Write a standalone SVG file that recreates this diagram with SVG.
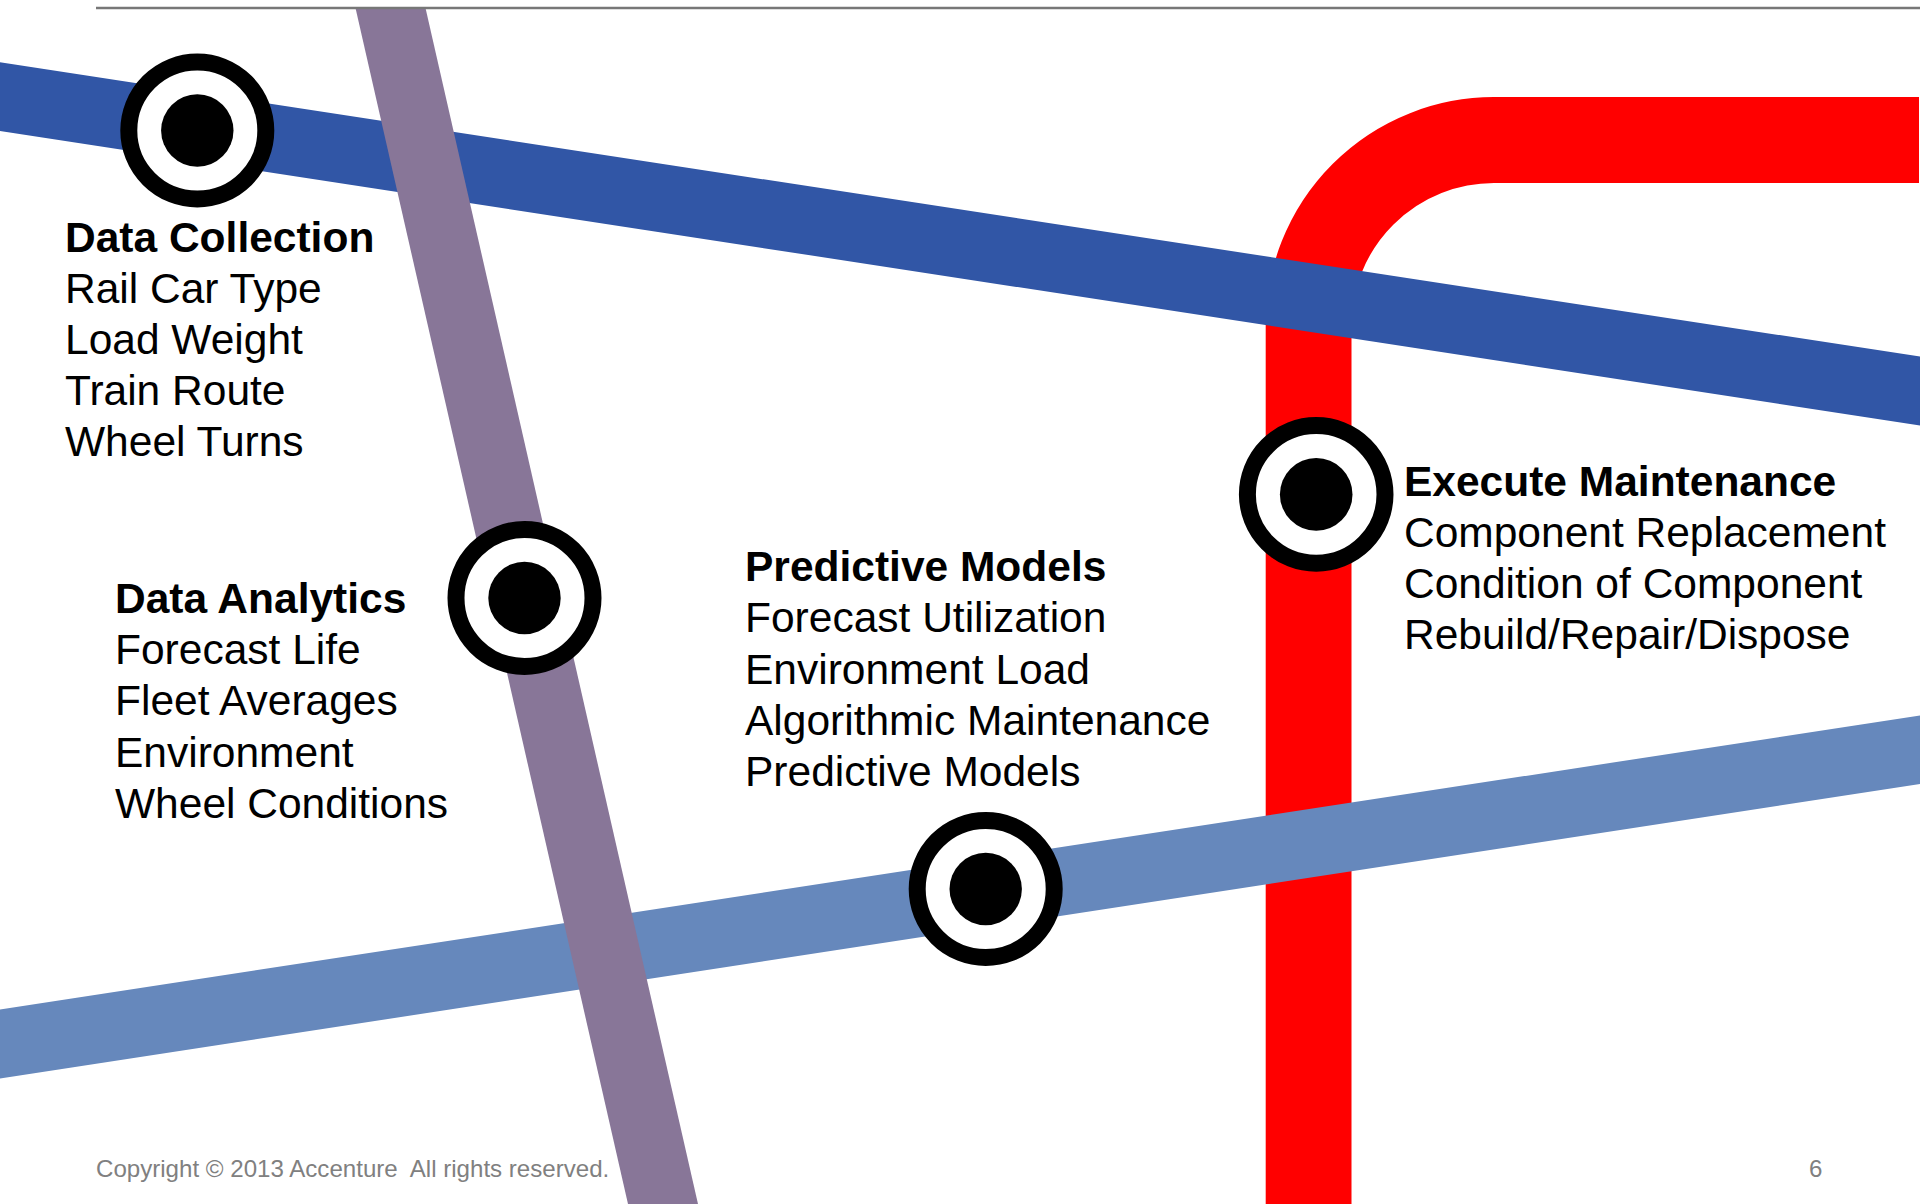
<svg xmlns="http://www.w3.org/2000/svg" width="1920" height="1204" viewBox="0 0 1920 1204">
<style>
text{font-family:"Liberation Sans",Arial,sans-serif;font-size:42.5px;fill:#000}
.h{font-weight:700}
.foot{font-size:24.1px;fill:#808080;white-space:pre}
.ring{fill:#fff;stroke:#000;stroke-width:17}
</style>
<rect width="1920" height="1204" fill="#fff"/>
<g id="connectors">
<path id="red-line" d="M1308.6 1204V325.4A185.4 185.4 0 0 1 1494 140H1919" fill="none" stroke="#ff0000" stroke-width="85.8"/>
<polygon id="dark-blue-line" points="0,62.3 1920,356.6 1920,425.5 0,131" fill="#3156a6"/>
<polygon id="light-blue-line" points="0,1009.5 1920,715.5 1920,784 0,1078.5" fill="#6688bc"/>
<polygon id="purple-line" points="355.5,8 425.5,8 698,1204 628,1204" fill="#887698"/>
<line id="top-rule" x1="96" y1="8" x2="1920" y2="8" stroke="#777" stroke-width="2.5"/>
</g>
<g id="node-data-collection">
<circle class="ring" cx="197.3" cy="130.5" r="68.5"/><circle cx="197.3" cy="130.5" r="36.2"/>
<text x="65" y="252" class="h">Data Collection</text>
<text x="65" y="303">Rail Car Type</text>
<text x="65" y="354">Load Weight</text>
<text x="65" y="405">Train Route</text>
<text x="65" y="456">Wheel Turns</text>
</g>
<g id="node-data-analytics">
<circle class="ring" cx="524.5" cy="598" r="68.5"/><circle cx="524.5" cy="598" r="36.2"/>
<text x="115" y="613" class="h">Data Analytics</text>
<text x="115" y="664">Forecast Life</text>
<text x="115" y="715">Fleet Averages</text>
<text x="115" y="767">Environment</text>
<text x="115" y="818">Wheel Conditions</text>
</g>
<g id="node-predictive-models">
<circle class="ring" cx="985.7" cy="889" r="68.5"/><circle cx="985.7" cy="889" r="36.2"/>
<text x="745" y="581" class="h">Predictive Models</text>
<text x="745" y="632">Forecast Utilization</text>
<text x="745" y="684">Environment Load</text>
<text x="745" y="735">Algorithmic Maintenance</text>
<text x="745" y="786">Predictive Models</text>
</g>
<g id="node-execute-maintenance">
<circle class="ring" cx="1316.2" cy="494.4" r="68.8"/><circle cx="1316.2" cy="494.4" r="36.3"/>
<text x="1404" y="496" class="h">Execute Maintenance</text>
<text x="1404" y="547">Component Replacement</text>
<text x="1404" y="598">Condition of Component</text>
<text x="1404" y="649">Rebuild/Repair/Dispose</text>
</g>
<g id="footer">
<text x="96" y="1177" class="foot">Copyright © 2013 Accenture  All rights reserved.</text>
<text x="1809" y="1177" class="foot">6</text>
</g>
</svg>
